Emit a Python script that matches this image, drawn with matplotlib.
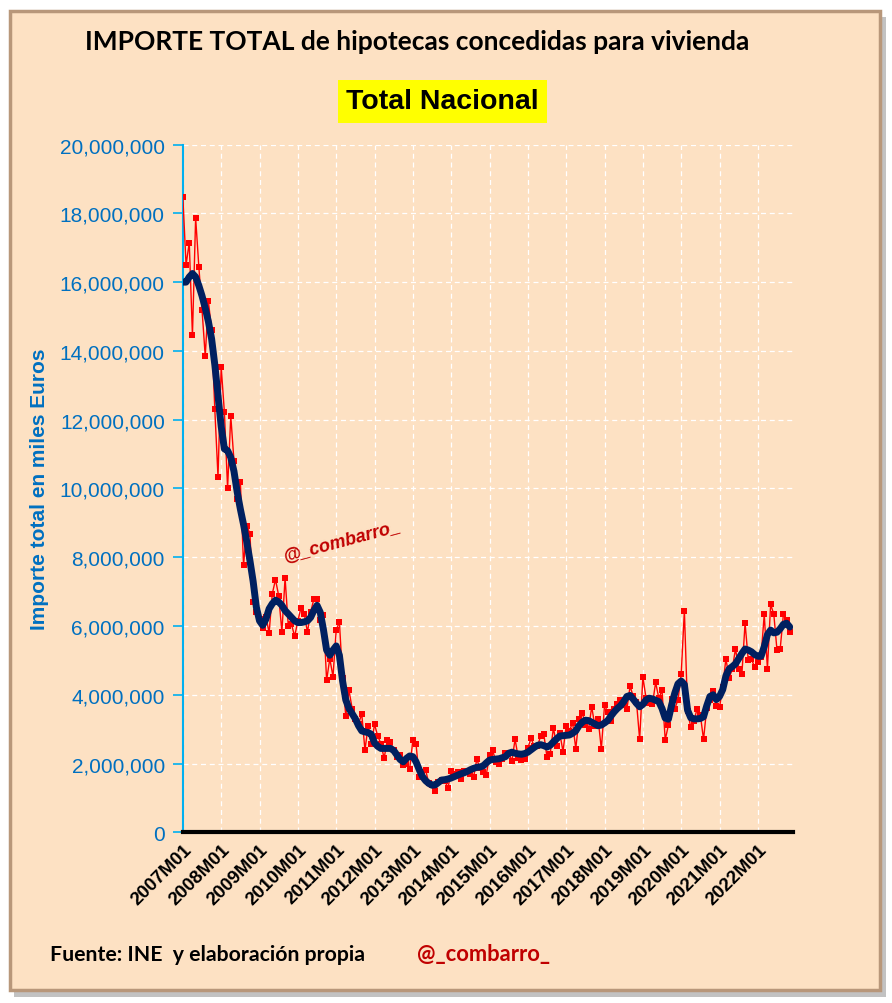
import matplotlib.pyplot as plt
from matplotlib.patches import Rectangle
from matplotlib.ticker import FuncFormatter

# monthly series 2007M01 .. 2022M11, in millions of "miles de euros"
importe = [
    18.48, 16.50, 17.15, 14.45, 17.87, 16.45, 15.20, 13.85, 15.44, 14.60, 12.30, 10.34,
    13.53, 12.22, 10.01, 12.11, 10.80, 9.69, 10.19, 7.76, 8.92, 8.68, 6.71, 6.42,
    6.20, 5.95, 6.27, 5.80, 6.94, 7.35, 6.88, 5.83, 7.40, 6.00, 6.05, 5.70,
    6.15, 6.53, 6.36, 5.82, 6.40, 6.78, 6.78, 6.16, 6.33, 4.42, 5.05, 4.53,
    5.88, 6.12, 4.50, 3.38, 4.13, 3.60, 3.29, 3.15, 3.45, 2.39, 3.09, 2.56,
    3.14, 2.80, 2.58, 2.15, 2.68, 2.63, 2.40, 2.20, 2.25, 1.95, 1.99, 1.84,
    2.68, 2.56, 1.60, 1.75, 1.81, 1.42, 1.38, 1.20, 1.45, 1.52, 1.50, 1.29,
    1.78, 1.71, 1.74, 1.56, 1.78, 1.78, 1.70, 1.60, 2.12, 1.88, 1.75, 1.68,
    2.24, 2.38, 2.05, 1.98, 2.12, 2.30, 2.32, 2.07, 2.71, 2.16, 2.10, 2.13,
    2.46, 2.73, 2.50, 2.50, 2.80, 2.85, 2.18, 2.29, 3.04, 2.52, 2.88, 2.35,
    3.10, 2.95, 3.19, 2.43, 3.30, 3.48, 3.13, 3.01, 3.65, 3.08, 3.30, 2.42,
    3.69, 3.50, 3.23, 3.60, 3.72, 3.85, 3.70, 3.58, 4.25, 3.95, 3.80, 2.70,
    4.52, 3.90, 3.75, 3.72, 4.36, 3.90, 4.13, 2.69, 3.12, 3.89, 3.60, 3.85,
    4.59, 6.45, 3.53, 3.05, 3.24, 3.60, 3.41, 2.70, 3.62, 3.85, 4.10, 3.67,
    3.63, 4.23, 5.05, 4.49, 4.75, 5.34, 4.76, 4.59, 6.09, 5.00, 5.03, 4.81,
    4.95, 5.10, 6.34, 4.76, 6.63, 6.34, 5.29, 5.34, 6.34, 6.16, 5.83,
]

tendencia = [
    16.00, 16.00, 16.15, 16.25, 16.15, 15.90, 15.60, 15.25, 14.85, 14.35, 13.60, 12.70,
    11.80, 11.15, 11.10, 10.90, 10.50, 9.90, 9.40, 8.95, 8.45, 7.90, 7.30, 6.55,
    6.15, 6.02, 6.20, 6.50, 6.65, 6.75, 6.70, 6.60, 6.45, 6.35, 6.25, 6.15,
    6.10, 6.10, 6.12, 6.15, 6.25, 6.45, 6.60, 6.40, 5.90, 5.30, 5.15, 5.30,
    5.42, 5.15, 4.40, 3.85, 3.60, 3.45, 3.30, 3.10, 2.95, 2.92, 2.90, 2.85,
    2.60, 2.50, 2.44, 2.44, 2.44, 2.44, 2.38, 2.25, 2.12, 2.05, 2.15, 2.22,
    2.20, 2.05, 1.82, 1.62, 1.50, 1.42, 1.37, 1.38, 1.45, 1.52, 1.53, 1.55,
    1.58, 1.62, 1.66, 1.70, 1.73, 1.77, 1.82, 1.86, 1.89, 1.90, 1.93, 2.02,
    2.10, 2.12, 2.13, 2.14, 2.17, 2.20, 2.30, 2.33, 2.30, 2.28, 2.27, 2.29,
    2.33, 2.40, 2.47, 2.53, 2.55, 2.52, 2.48, 2.53, 2.63, 2.72, 2.80, 2.81,
    2.82, 2.83, 2.88, 2.95, 3.10, 3.20, 3.26, 3.25, 3.20, 3.15, 3.10, 3.12,
    3.18, 3.25, 3.38, 3.50, 3.60, 3.68, 3.80, 3.95, 3.98, 3.87, 3.75, 3.65,
    3.72, 3.85, 3.90, 3.88, 3.84, 3.80, 3.60, 3.32, 3.29, 3.70, 4.05, 4.32,
    4.40, 4.30, 3.55, 3.33, 3.30, 3.30, 3.31, 3.36, 3.68, 3.95, 4.00, 3.86,
    3.95, 4.15, 4.55, 4.75, 4.82, 4.90, 5.05, 5.20, 5.33, 5.30, 5.25, 5.17,
    5.12, 5.12, 5.40, 5.75, 5.88, 5.80, 5.82, 5.92, 6.05, 6.08, 5.97,
]

years = list(range(2007, 2023))
tick_labels = [f"{y}M01" for y in years]

bg = "#FDE1C3"
fig = plt.figure(figsize=(8.92, 10.04), dpi=100)
fig.patch.set_facecolor("white")

# framed panel with shadow
fig.patches.append(Rectangle((0.016, 0.006), 0.977, 0.976, transform=fig.transFigure,
                             facecolor="#9a9a9a", edgecolor="none", alpha=0.6, zorder=0))
fig.patches.append(Rectangle((0.011, 0.013), 0.976, 0.975, transform=fig.transFigure,
                             facecolor=bg, edgecolor="#b8977a", linewidth=2.5, zorder=1))

ax = fig.add_axes([0.205, 0.170, 0.684, 0.685])
ax.set_zorder(3)
ax.set_facecolor(bg)

x = list(range(len(importe)))
ax.plot(x, [v * 1e6 for v in importe], color="#FF0000", lw=1, marker="s",
        markersize=4, markeredgewidth=0, zorder=3)
ax.plot(x, [v * 1e6 for v in tendencia], color="#002060", lw=5,
        solid_capstyle="round", zorder=4)

ax.set_ylim(0, 20000000)
ax.set_xlim(0, len(importe))
ax.set_yticks(range(0, 20000001, 2000000))
ax.yaxis.set_major_formatter(FuncFormatter(lambda v, p: f"{v:,.0f}"))
ax.set_xticks([12 * i for i in range(len(years))])
ax.set_xticklabels(tick_labels, rotation=45, ha="right", va="top",
                   rotation_mode="anchor", fontsize=13.5, fontweight="bold",
                   family="Liberation Sans")
ax.tick_params(axis="x", length=0, pad=6)
ax.tick_params(axis="y", length=7, width=1.2, color="#00B0F0",
               labelcolor="#0070C0", labelsize=15, pad=6)
for lab in ax.get_yticklabels():
    lab.set_family("Liberation Sans")

ax.grid(True, color="white", linestyle="--", linewidth=0.9, dashes=(4, 3))
ax.set_axisbelow(True)
for s in ("top", "right"):
    ax.spines[s].set_visible(False)
ax.spines["left"].set_color("#00B0F0")
ax.spines["left"].set_linewidth(1.5)
ax.spines["bottom"].set_color("black")
ax.spines["bottom"].set_linewidth(3)
ax.spines["bottom"].set_zorder(5)

ax.set_ylabel("Importe total en miles Euros", color="#0070C0", fontsize=15,
              fontweight="bold", family="Liberation Sans", labelpad=8)

fig.text(0.468, 0.958, "IMPORTE TOTAL de hipotecas concedidas para vivienda",
         ha="center", va="center", fontsize=19, fontweight="bold", family="Lato")
fig.text(0.496, 0.898, "Total Nacional", ha="center", va="center", fontsize=20.5,
         fontweight="bold", family="Liberation Sans",
         bbox=dict(facecolor="#FFFF00", edgecolor="none", pad=6))

fig.text(0.383, 0.461, "@_combarro_", color="#C00000", fontsize=13,
         fontweight="bold", fontstyle="italic", family="Liberation Sans",
         rotation=15, ha="center", va="center")

fig.text(0.056, 0.049, "Fuente: INE  y elaboración propia", fontsize=15.3,
         fontweight="bold", family="Lato", ha="left", va="center")
fig.text(0.468, 0.049, "@_combarro_", fontsize=15.8, color="#C00000",
         fontweight="bold", family="Lato", ha="left", va="center")

fig.savefig("out.png", dpi=100, facecolor=fig.get_facecolor())
